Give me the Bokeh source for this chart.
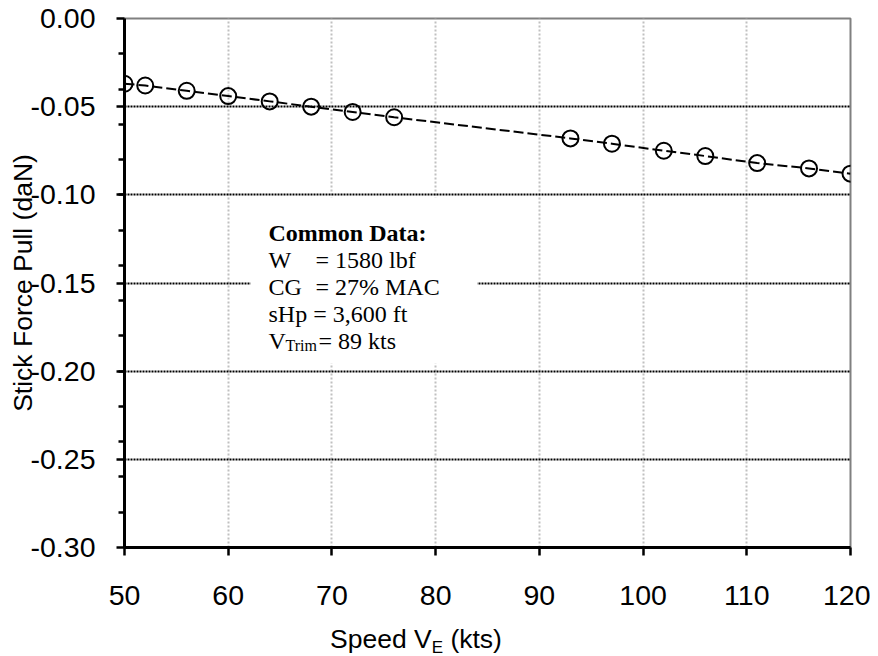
from bokeh.plotting import figure
from bokeh.models import (FixedTicker, NumeralTickFormatter, Label, BoxAnnotation,
                          Range1d, ColumnDataSource, Div)
from bokeh.layouts import column
from bokeh.embed import file_html
from bokeh.resources import INLINE

# ---- data ----
speed_kts = [50, 52, 56, 60, 64, 68, 72, 76, 93, 97, 102, 106, 111, 116, 120]
stick_force_daN = [-0.037, -0.038, -0.041, -0.044, -0.047, -0.050, -0.053, -0.056,
                   -0.068, -0.071, -0.075, -0.078, -0.082, -0.085, -0.088]
x_ticks = [50, 60, 70, 80, 90, 100, 110, 120]
y_ticks = [0.0, -0.05, -0.10, -0.15, -0.20, -0.25, -0.30]
y_minor = [-0.02 * i for i in range(1, 15)]
x_title = ["Speed V", "E", "(kts)"]
y_title = "Stick Force Pull (daN)"

X0, X1 = 50, 120
Y0, Y1 = -0.30, 0.0

W, H = 870, 620
FL, FT, FR, FB = 124, 18, 20, 73   # frame borders (canvas px)
fw = W - FL - FR
fh = H - FT - FB

def dx(px):  # page px -> data x
    return X0 + (px - FL) * (X1 - X0) / fw

def dy(py):  # page px -> data y
    return Y1 - (py - FT) * (Y1 - Y0) / fh

p = figure(width=W, height=H, output_backend="svg", toolbar_location=None,
           x_range=Range1d(X0, X1), y_range=Range1d(Y0, Y1),
           min_border_left=FL, min_border_right=FR, min_border_top=FT,
           min_border_bottom=FB)
p.background_fill_color = "white"
p.border_fill_color = "white"
p.outline_line_color = "#808080"
p.outline_line_width = 2

sans = "Liberation Sans"
# axes
p.xaxis.ticker = FixedTicker(ticks=x_ticks)
p.yaxis.ticker = FixedTicker(ticks=y_ticks, minor_ticks=y_minor)
p.yaxis.formatter = NumeralTickFormatter(format="0.00")
for ax in (p.xaxis[0], p.yaxis[0]):
    ax.axis_line_color = "black"
    ax.axis_line_width = 3
    ax.major_tick_line_color = "black"
    ax.major_tick_line_width = 2.5
    ax.minor_tick_line_color = "black"
    ax.minor_tick_line_width = 2.5
    ax.major_tick_in = 0
    ax.minor_tick_in = 0
    ax.major_label_text_font = sans
    ax.major_label_text_font_size = "28.5px"
    ax.major_label_text_color = "black"
p.xaxis.major_tick_out = 8
p.xaxis.minor_tick_out = 0
p.xaxis.major_label_standoff = 30
p.yaxis.major_tick_out = 8
p.yaxis.minor_tick_out = 6
p.yaxis.major_label_standoff = 21
p.yaxis.axis_label = y_title
p.yaxis.axis_label_text_font = sans
p.yaxis.axis_label_text_font_size = "26.5px"
p.yaxis.axis_label_text_font_style = "normal"
p.yaxis.axis_label_text_color = "black"
p.yaxis.axis_label_standoff = -10

# grids
p.xgrid.ticker = FixedTicker(ticks=x_ticks[1:-1])
p.xgrid.grid_line_color = "#c0c0c0"
p.xgrid.grid_line_width = 2
p.xgrid.grid_line_dash = "2 2"
p.ygrid.ticker = FixedTicker(ticks=y_ticks[1:-1])
p.ygrid.grid_line_color = "black"
p.ygrid.grid_line_width = 2
p.ygrid.grid_line_dash = "2 1"

# data
src = ColumnDataSource(dict(x=speed_kts, y=stick_force_daN))
p.line("x", "y", source=src, line_color="black", line_width=2, line_dash="10 4")
p.scatter("x", "y", source=src, marker="circle", size=16, fill_color=None,
          line_color="black", line_width=2)

# text box background
p.add_layout(BoxAnnotation(left=dx(250), right=dx(477), top=dy(197), bottom=dy(363),
                           fill_color="white", fill_alpha=1.0, line_color=None))

serif = "Liberation Serif"
def lab(px, py, text, size="24px", bold=False):
    p.add_layout(Label(x=dx(px), y=dy(py), text=text, text_font=serif,
                       text_font_size=size, text_color="black",
                       text_font_style="bold" if bold else "normal",
                       text_baseline="alphabetic", text_align="left"))

lab(268, 232, "Common Data:", bold=True)
lab(268, 259, "W")
lab(315, 259, "= 1580 lbf")
lab(268, 286, "CG")
lab(315, 286, "= 27% MAC")
lab(268, 313, "sHp = 3,600 ft")
lab(268, 340, "V")
lab(285, 345, "Trim", size="16px")
lab(318, 340, "= 89 kts")

# x-axis title (with subscript) as HTML below the plot
title_html = (
    "<div style=\"padding-left:330px; padding-top:4px; font-family:'Liberation Sans'; "
    "font-size:26.5px; line-height:30px; color:black; white-space:nowrap; margin:0\">"
    f"{x_title[0]}<sub style=\"font-size:17px; line-height:0; vertical-align:-5px\">"
    f"{x_title[1]}</sub> {x_title[2]}</div>"
)
xt = Div(text=title_html, width=W, height=36, margin=0)

layout = column(p, xt, spacing=0)
open("out.html", "w").write(file_html(layout, INLINE))
